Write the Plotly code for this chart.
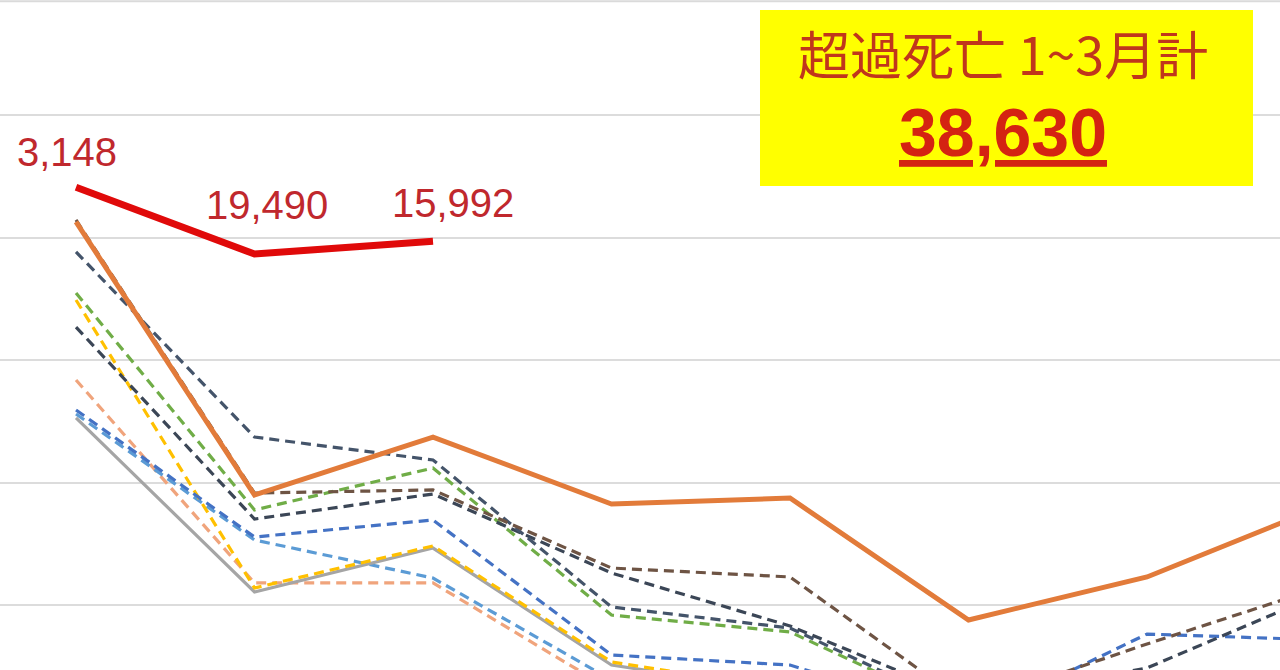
import plotly.graph_objects as go

# months along the x axis (only part of the chart is visible)
months = [0, 1, 2, 3, 4, 5, 6, 7]

# excess-death year (red) - only Jan..Mar
red_line = [144100, 138650, 139700]
red_labels = ["3,148", "19,490", "15,992"]

orange_solid = [141270, 118980, 123710, 118240, 118730, 108780, 112290, 118160]
brown_dash = [141430, 119140, 119390, 113020, 112290, 101840, 106820, 111550]
slate_dash = [138820, 123710, 121840, 109840, 108120, 101270, 100610, 102245]
green_dash = [135470, 117760, 121180, 109180, 107800, 101020, 100200, 101430]
yellow_dash = [134900, 111390, 114820, 105350, 103060, 98980, 98570, 99800]
navy_dash = [132690, 117020, 119060, 112610, 108290, 102245, 104860, 111060]
salmon_dash = [128370, 111800, 111800, 103060, 101840, 97350, 97350, 98570]
blue_dash = [125920, 115550, 116940, 105920, 105100, 100610, 107630, 107140]
lightblue_dash = [125590, 115310, 112200, 103880, 102245, 98160, 98570, 98980]
gray_solid = [125270, 111060, 114650, 105100, 102900, 98570, 98160, 99390]

box_title = "超過死亡 1~3月計"
box_total = "38,630"

fig = go.Figure()

DASH = "10px,6px"
dashed = [
    (salmon_dash, "#F0A47C"),
    (lightblue_dash, "#5B9BD5"),
    (gray_solid, "#A5A5A5"),
    (yellow_dash, "#FFC000"),
    (blue_dash, "#4472C4"),
    (green_dash, "#70AD47"),
    (navy_dash, "#3B4656"),
    (slate_dash, "#44546A"),
    (brown_dash, "#6E5444"),
]
for ys, col in dashed:
    dash = "solid" if ys is gray_solid else DASH
    fig.add_trace(go.Scatter(x=months, y=ys, mode="lines",
                             line=dict(color=col, width=3.2, dash=dash)))

fig.add_trace(go.Scatter(x=months, y=orange_solid, mode="lines",
                         line=dict(color="#E27B3A", width=5)))
fig.add_trace(go.Scatter(x=months[:3], y=red_line, mode="lines",
                         line=dict(color="#E00A0A", width=7)))

shifts = [(-9, 35), (12, 49), (20, 38)]
for i, txt in enumerate(red_labels):
    fig.add_annotation(x=months[i], y=red_line[i], text=txt, showarrow=False,
                       xshift=shifts[i][0], yshift=shifts[i][1],
                       font=dict(family="Liberation Sans, Arial", size=40, color="#C0282D"))

# yellow summary box
fig.add_shape(type="rect", xref="paper", yref="paper",
              x0=760 / 1280, x1=1253 / 1280, y0=1 - 186 / 670, y1=1 - 10 / 670,
              fillcolor="#FFFF00", line=dict(width=0), layer="above")
fig.add_annotation(xref="paper", yref="paper", x=1003 / 1280, y=1 - 52 / 670,
                   xanchor="center", yanchor="middle",
                   text=box_title, showarrow=False,
                   font=dict(family="Noto Sans CJK JP", size=52, color="#C0361C"))
fig.add_annotation(xref="paper", yref="paper", x=1003 / 1280, y=1 - 132 / 670,
                   xanchor="center", yanchor="middle",
                   text="<b><u>" + box_total + "</u></b>", showarrow=False,
                   font=dict(family="Liberation Sans, Arial", size=68, color="#D42312"))

# faint top border line
fig.add_shape(type="line", xref="paper", yref="paper", x0=0, x1=1, y0=0.998, y1=0.998,
              line=dict(color="#DADADA", width=2))

fig.update_layout(
    width=1280, height=670, margin=dict(l=0, r=0, t=0, b=0),
    paper_bgcolor="white", plot_bgcolor="white", showlegend=False,
    xaxis=dict(range=[-0.4258, 6.745], showgrid=False, zeroline=False,
               showticklabels=False, showline=False),
    yaxis=dict(range=[104694, 159388], tick0=110000, dtick=10000, showgrid=True,
               gridcolor="#DCDCDC", gridwidth=2, zeroline=False,
               showticklabels=False, showline=False),
)

fig.write_html("out.html", config={"displayModeBar": False},
               post_script="document.body.style.margin='0';")
